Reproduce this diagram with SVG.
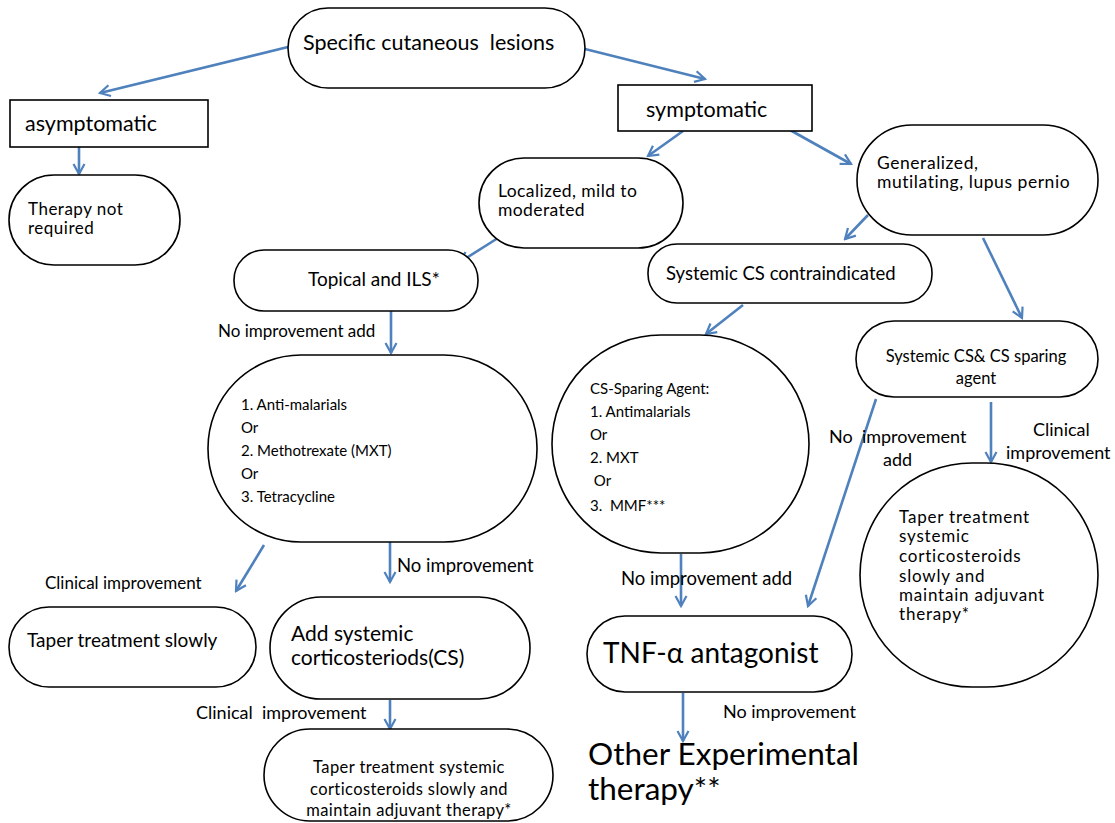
<svg xmlns="http://www.w3.org/2000/svg" width="1115" height="823" viewBox="0 0 1115 823">
<defs>
<style>
.n{fill:#fff;stroke:#000;stroke-width:1.6}
.t{font-family:Lato,"Liberation Sans",sans-serif;fill:#000}
.c{stroke:#4F81BD;stroke-width:2.6;fill:none;marker-end:url(#ah)}
</style>
<marker id="ah" viewBox="0 0 14 14" refX="12" refY="7" markerWidth="14" markerHeight="14" markerUnits="userSpaceOnUse" orient="auto">
<path d="M2,1.5 L12,7 L2,12.5" fill="none" stroke="#4F81BD" stroke-width="2.2"/>
</marker>
</defs>
<rect width="1115" height="823" fill="#fff"/>
<g id="connectors">
<line class="c" x1="288" y1="47" x2="100" y2="93"/>
<line class="c" x1="585" y1="49" x2="705" y2="79"/>
<line class="c" x1="79" y1="147" x2="79" y2="174"/>
<line class="c" x1="683" y1="131" x2="648" y2="156"/>
<line class="c" x1="790" y1="130" x2="851" y2="164"/>
<line class="c" x1="498" y1="238" x2="460" y2="262"/>
<line class="c" x1="868" y1="215" x2="845" y2="239"/>
<line class="c" x1="983" y1="238" x2="1022" y2="318"/>
<line class="c" x1="391" y1="311" x2="391" y2="353"/>
<line class="c" x1="743" y1="305" x2="706" y2="334"/>
<line class="c" x1="876" y1="399" x2="808" y2="606"/>
<line class="c" x1="991" y1="402" x2="991" y2="462"/>
<line class="c" x1="264" y1="545" x2="236" y2="591"/>
<line class="c" x1="390" y1="542" x2="390" y2="582"/>
<line class="c" x1="390" y1="700" x2="390" y2="729"/>
<line class="c" x1="681" y1="554" x2="681" y2="606"/>
<line class="c" x1="683" y1="693" x2="683" y2="741"/>
</g>
<g id="n-top"><rect class="n" x="288" y="8" width="297" height="80" rx="40"/>
<text class="t" x="303" y="50" font-size="21.5">Specific cutaneous&#160; lesions</text></g>
<g id="n-asym"><rect class="n" x="10" y="100" width="198" height="47"/>
<text class="t" x="25" y="131" font-size="21.5">asymptomatic</text></g>
<g id="n-notreq"><rect class="n" x="9" y="175" width="171" height="90" rx="45"/>
<text class="t" font-size="17" letter-spacing="0.5"><tspan x="28" y="215">Therapy not</tspan><tspan x="28" y="234">required</tspan></text></g>
<g id="n-sym"><rect class="n" x="618" y="85" width="194" height="46"/>
<text class="t" x="646" y="117" font-size="21.5">symptomatic</text></g>
<g id="n-loc"><rect class="n" x="479" y="158" width="204" height="90" rx="45"/>
<text class="t" font-size="17.5" letter-spacing="0.4"><tspan x="498" y="197">Localized, mild to</tspan><tspan x="498" y="216">moderated</tspan></text></g>
<g id="n-gen"><rect class="n" x="857" y="125" width="241" height="110" rx="55"/>
<text class="t" font-size="17.5" letter-spacing="0.55"><tspan x="877" y="169">Generalized,</tspan><tspan x="877" y="188">mutilating, lupus pernio</tspan></text></g>
<g id="n-topical"><rect class="n" x="234" y="250" width="244" height="61" rx="30"/>
<text class="t" x="308" y="286" font-size="19">Topical and ILS*</text></g>
<g id="n-contra"><rect class="n" x="648" y="244" width="284" height="59" rx="29"/>
<text class="t" x="666" y="280" font-size="18.5">Systemic CS contraindicated</text></g>
<g id="n-list"><rect class="n" x="208" y="355" width="329" height="187" rx="93"/>
<text class="t" font-size="15"><tspan x="241" y="410">1. Anti-malarials</tspan><tspan x="241" y="433">Or</tspan><tspan x="241" y="456">2. Methotrexate (MXT)</tspan><tspan x="241" y="479">Or</tspan><tspan x="241" y="502">3. Tetracycline</tspan></text></g>
<g id="n-sparing"><rect class="n" x="552" y="335" width="257" height="218" rx="109"/>
<text class="t" font-size="15"><tspan x="590" y="394">CS-Sparing Agent:</tspan><tspan x="590" y="417">1. Antimalarials</tspan><tspan x="590" y="440">Or</tspan><tspan x="590" y="463">2. MXT</tspan><tspan x="590" y="486">&#160;Or</tspan><tspan x="590" y="511">3.&#160; MMF***</tspan></text></g>
<g id="n-syscs"><rect class="n" x="856" y="321" width="242" height="76" rx="38"/>
<text class="t" font-size="16.5" text-anchor="middle"><tspan x="976" y="362">Systemic CS&amp; CS sparing</tspan><tspan x="976" y="384">agent</tspan></text></g>
<g id="n-taper-right"><rect class="n" x="860" y="463" width="238" height="224" rx="112"/>
<text class="t" font-size="17" letter-spacing="0.8"><tspan x="899" y="523">Taper treatment</tspan><tspan x="899" y="542">systemic</tspan><tspan x="899" y="562">corticosteroids</tspan><tspan x="899" y="582">slowly and</tspan><tspan x="899" y="601">maintain adjuvant</tspan><tspan x="899" y="620">therapy*</tspan></text></g>
<g id="n-taper-slow"><rect class="n" x="9" y="607" width="247" height="80" rx="40"/>
<text class="t" x="27" y="647" font-size="19">Taper treatment slowly</text></g>
<g id="n-addcs"><rect class="n" x="270" y="597" width="260" height="102" rx="51"/>
<text class="t" font-size="21"><tspan x="291" y="641">Add systemic</tspan><tspan x="291" y="665">corticosteriods(CS)</tspan></text></g>
<g id="n-taper-bottom"><rect class="n" x="264" y="729" width="289" height="92" rx="46"/>
<text class="t" font-size="16.5" letter-spacing="0.4" text-anchor="middle"><tspan x="409" y="773">Taper treatment systemic</tspan><tspan x="409" y="795">corticosteroids slowly and</tspan><tspan x="409" y="816">maintain adjuvant therapy*</tspan></text></g>
<g id="n-tnf"><rect class="n" x="587" y="616" width="265" height="76" rx="38"/>
<text class="t" x="603" y="663" font-size="28">TNF-α antagonist</text></g>
<g id="n-other"><text class="t" font-size="31.5"><tspan x="588" y="765">Other Experimental</tspan><tspan x="588" y="800">therapy**</tspan></text></g>
<g id="labels">
<text class="t" x="218" y="337" font-size="17">No improvement add</text>
<text class="t" x="829" y="443" font-size="18">No&#160; improvement</text>
<text class="t" x="883" y="466" font-size="18">add</text>
<text class="t" x="1033" y="436" font-size="18">Clinical</text>
<text class="t" x="1006" y="459" font-size="18">improvement</text>
<text class="t" x="45" y="589" font-size="17">Clinical improvement</text>
<text class="t" x="397" y="572" font-size="18.5">No improvement</text>
<text class="t" x="196" y="719" font-size="18">Clinical&#160; improvement</text>
<text class="t" x="621" y="585" font-size="18.5">No improvement add</text>
<text class="t" x="723" y="718" font-size="18">No improvement</text>
</g>
</svg>
